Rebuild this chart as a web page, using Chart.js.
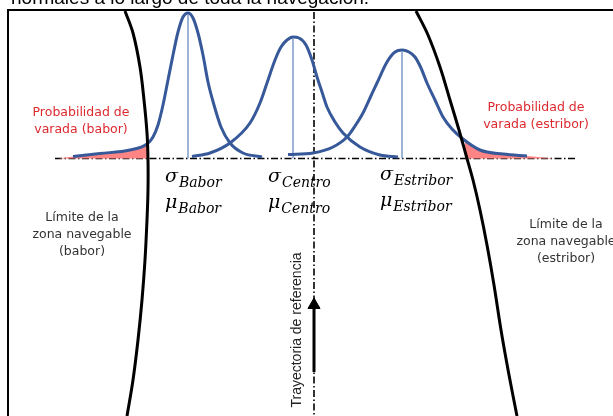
<!DOCTYPE html>
<html>
<head>
<meta charset="utf-8">
<script src="https://cdn.jsdelivr.net/npm/chart.js@4/dist/chart.umd.min.js"></script>
<style>
  html, body { margin: 0; padding: 0; background: #ffffff; }
  #wrap { width: 613px; height: 416px; position: relative; }
</style>
</head>
<body>
<div id="wrap"><canvas id="diagram"></canvas></div>
<script>
// Diagram of lateral position distributions along a channel.
// Drawn on a scatter chart whose hidden axes map 1:1 to the picture.

const TITLE = "normales a lo largo de toda la navegación.";
const RED_LABEL_BABOR = ["Probabilidad de", "varada (babor)"];
const RED_LABEL_ESTRIBOR = ["Probabilidad de", "varada (estribor)"];
const LIMIT_BABOR = ["Límite de la", "zona navegable", "(babor)"];
const LIMIT_ESTRIBOR = ["Límite de la", "zona navegable", "(estribor)"];
const SUBSCRIPTS = ["Babor", "Centro", "Estribor"];
const TRACK_LABEL = "Trayectoria de referencia";

// Distribution curves [x, y]
const CURVE_BABOR = [
  [73, 156.5], [100, 153.5], [130, 150], [147, 144], [153, 137], [158, 125],
  [163, 105], [168, 80], [173, 55], [178, 32], [183, 17], [188, 13],
  [193, 18], [198, 33], [203, 55], [208, 82], [214, 105], [221, 127],
  [230, 143], [243, 153], [262, 157],
];
const CURVE_CENTRO = [
  [192, 156.5], [210, 153], [230, 143], [250, 123], [260, 103], [267, 83],
  [275, 60], [281, 47], [287, 40], [293, 37], [299, 38], [306, 45],
  [312, 60], [317, 77], [322, 92], [327, 107], [335, 122], [343, 133],
  [360, 147], [380, 155], [398, 157],
];
const CURVE_ESTRIBOR = [
  [288, 154.5], [313, 153], [333, 147], [347, 137], [355, 126], [363, 113],
  [370, 98], [377, 83], [387, 62], [395, 52], [402, 50], [409, 52],
  [415, 57], [421, 68], [427, 83], [435, 100], [443, 117], [452, 129],
  [463, 139], [480, 150], [503, 154], [527, 156],
];

// Mean markers: x, top y
const MEAN_X = [188, 293, 402];
const MEAN_TOP = [15, 39, 52];
const BASE_Y = 158.5;

// Navigable zone limits
const LIMIT_LEFT = [
  [125, 11], [133, 33], [140, 67], [144, 100], [147, 133], [148, 160],
  [148, 190], [147, 220], [145, 260], [142, 300], [138, 340], [133, 380],
  [127, 416],
];
const LIMIT_RIGHT = [
  [416, 11], [428, 35], [440, 67], [450, 100], [459, 130], [466, 155],
  [473, 180], [480, 210], [487, 245], [494, 285], [501, 330], [509, 375],
  [517, 416],
];

// Grounding probability tails (filled down to the base line)
const TAIL_LEFT = [[58, 158.5], [73, 156.5], [100, 154], [130, 150], [147, 144.5]];
const TAIL_RIGHT = [[465, 141], [480, 150], [503, 154], [527, 156], [555, 158.5]];

const BASE_SPAN = [55, 575];
const TRACK_X = 314;
const TRACK_SPAN = [12, 416];
const ARROW = [[314, 372], [314, 304]];
const ARROW_TIP = [[314, 305]];
const FRAME = [[8, 416], [8, 10], [613, 10]];

const BLUE = "#37599A";
const LIGHT_BLUE = "#7F9ACB";
const PINK = "#FF8585";
const RED_TXT = "#DD2A2F";
const DASH_DOT = [7, 2.5, 1.5, 2.5];

const pts = (arr) => arr.map(([x, y]) => ({ x, y }));

function lineSet(data, color, width, extra) {
  return Object.assign({
    data: pts(data),
    showLine: true,
    borderColor: color,
    borderWidth: width,
    pointRadius: 0,
    fill: false,
  }, extra || {});
}

// ─── Text layer ──────────────────────────────────────────────────────────────

const textLayer = {
  id: "textLayer",
  afterDatasetsDraw(chart) {
    const { ctx, scales: { x, y } } = chart;
    const px = (v) => x.getPixelForValue(v);
    const py = (v) => y.getPixelForValue(v);
    ctx.save();

    // cut-off caption at the top
    ctx.fillStyle = "#000";
    ctx.font = '19px "Liberation Sans", Arial, sans-serif';
    ctx.textAlign = "left";
    ctx.textBaseline = "alphabetic";
    ctx.fillText(TITLE, px(11), py(4));

    const block = (lines, cx, top, color) => {
      ctx.fillStyle = color;
      ctx.font = '12.5px "DejaVu Sans", sans-serif';
      ctx.textAlign = "center";
      ctx.textBaseline = "middle";
      lines.forEach((t, i) => ctx.fillText(t, px(cx), py(top + i * 17)));
    };
    block(RED_LABEL_BABOR, 81, 113, RED_TXT);
    block(RED_LABEL_ESTRIBOR, 536, 108, RED_TXT);
    block(LIMIT_BABOR, 82, 218, "#333");
    block(LIMIT_ESTRIBOR, 566, 225, "#333");

    // sigma / mu with subscripts
    const math = (sym, sub, x0, base) => {
      ctx.fillStyle = "#000";
      ctx.textAlign = "left";
      ctx.textBaseline = "alphabetic";
      ctx.font = 'italic 19px "DejaVu Serif", serif';
      ctx.fillText(sym, px(x0), py(base));
      const w = ctx.measureText(sym).width;
      ctx.font = 'italic 14px "DejaVu Serif", serif';
      ctx.fillText(sub, px(x0) + w + 1, py(base + 5));
    };
    const startX = [165, 268, 380];
    const shift = [0, 0, -2];
    SUBSCRIPTS.forEach((s, i) => {
      math("σ", s, startX[i], 182 + shift[i]);
      math("μ", s, startX[i], 208 + shift[i]);
    });

    // rotated track label
    ctx.save();
    ctx.translate(px(297), py(330));
    ctx.rotate(-Math.PI / 2);
    ctx.fillStyle = "#222";
    ctx.font = '14px "Liberation Sans", Arial, sans-serif';
    ctx.textAlign = "center";
    ctx.textBaseline = "middle";
    ctx.fillText(TRACK_LABEL, 0, 0);
    ctx.restore();

    ctx.restore();
  },
};

// ─── Chart ───────────────────────────────────────────────────────────────────

const datasets = [
  lineSet(LIMIT_LEFT, "#000", 3, { tension: 0.35, order: 0 }),
  lineSet(LIMIT_RIGHT, "#000", 3, { tension: 0.35, order: 0 }),
  lineSet(ARROW, "#000", 3, { order: 1 }),
  {
    data: pts(ARROW_TIP),
    pointStyle: "triangle",
    pointRadius: 7,
    backgroundColor: "#000",
    borderColor: "#000",
    borderWidth: 1,
    order: 1,
  },
  lineSet(CURVE_BABOR, BLUE, 3, { cubicInterpolationMode: "monotone", order: 2 }),
  lineSet(CURVE_CENTRO, BLUE, 3, { cubicInterpolationMode: "monotone", order: 2 }),
  lineSet(CURVE_ESTRIBOR, BLUE, 3, { cubicInterpolationMode: "monotone", order: 2 }),
  ...MEAN_X.map((mx, i) =>
    lineSet([[mx, MEAN_TOP[i]], [mx, BASE_Y]], LIGHT_BLUE, 1.5, { order: 3 })),
  lineSet(TAIL_LEFT, PINK, 0, {
    cubicInterpolationMode: "monotone", fill: { value: BASE_Y },
    backgroundColor: PINK, order: 4,
  }),
  lineSet(TAIL_RIGHT, PINK, 0, {
    cubicInterpolationMode: "monotone", fill: { value: BASE_Y },
    backgroundColor: PINK, order: 4,
  }),
  lineSet([[BASE_SPAN[0], BASE_Y], [BASE_SPAN[1], BASE_Y]], "#000", 1.6,
    { borderDash: DASH_DOT, order: 5 }),
  lineSet([[TRACK_X, TRACK_SPAN[0]], [TRACK_X, TRACK_SPAN[1]]], "#000", 1.6,
    { borderDash: DASH_DOT, order: 5 }),
  lineSet(FRAME, "#000", 2, { order: 6 }),
];

new Chart(document.getElementById("diagram"), {
  type: "scatter",
  data: { datasets },
  options: {
    responsive: true,
    maintainAspectRatio: false,
    animation: false,
    events: [],
    layout: { padding: 0, autoPadding: false },
    clip: false,
    plugins: { legend: { display: false }, tooltip: { enabled: false } },
    scales: {
      x: { type: "linear", min: 0, max: 613, display: false },
      y: { type: "linear", min: 0, max: 416, reverse: true, display: false },
    },
  },
  plugins: [textLayer],
});
</script>
</body>
</html>
